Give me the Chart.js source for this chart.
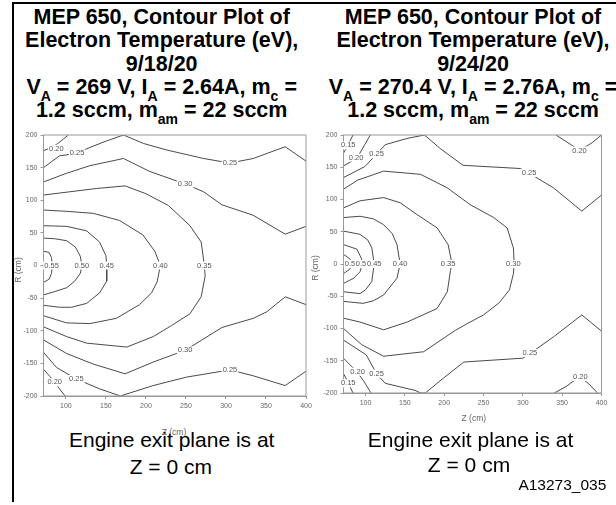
<!DOCTYPE html>
<html lang="en">
<head>
<meta charset="UTF-8">
<title>MEP 650 - Electron Temperature Contours</title>
<script src="https://cdn.jsdelivr.net/npm/chart.js"></script>
<style>
    body { margin: 0; width: 616px; height: 505px; background: #fff; overflow: hidden; position: relative;
           font-family: "Liberation Sans", Arial, sans-serif; }
    .frame-top { position: absolute; left: 12px; top: 2px; width: 604px; border-top: 2px solid #000; }
    .frame-left { position: absolute; left: 12px; top: 2px; height: 500px; border-left: 2px solid #000; }
    .title { position: absolute; width: 320px; text-align: center; font-weight: bold; font-size: 21.5px;
             line-height: 21.5px; white-space: nowrap; color: #000; }
    .title sub { font-size: 14px; position: relative; top: 7px; vertical-align: baseline; line-height: 0; }
    .note { position: absolute; width: 260px; text-align: center; font-size: 21px; line-height: 21px; white-space: nowrap; }
    .axis-title { position: absolute; font-size: 8.5px; color: #666; white-space: nowrap; }
    .id { position: absolute; right: 9.7px; top: 476.9px; font-size: 15.5px; line-height: 15.5px; }
    canvas { position: absolute; }
</style>
</head>
<body>
<div class="frame-top"></div>
<div class="frame-left"></div>

<!-- left title -->
<div class="title" style="left:1.7px; top:6.8px">MEP 650, Contour Plot of</div>
<div class="title" style="left:1.7px; top:30.2px">Electron Temperature (eV),</div>
<div class="title" style="left:1.7px; top:53.6px">9/18/20</div>
<div class="title" style="left:1.7px; top:77px">V<sub>A</sub> = 269 V, I<sub>A</sub> = 2.64A, m<sub>c</sub> =</div>
<div class="title" style="left:1.7px; top:100.4px">1.2 sccm, m<sub>am</sub> = 22 sccm</div>

<!-- right title -->
<div class="title" style="left:313px; top:6.8px">MEP 650, Contour Plot of</div>
<div class="title" style="left:313px; top:30.2px">Electron Temperature (eV),</div>
<div class="title" style="left:313px; top:53.6px">9/24/20</div>
<div class="title" style="left:313px; top:77px">V<sub>A</sub> = 270.4 V, I<sub>A</sub> = 2.76A, m<sub>c</sub> =</div>
<div class="title" style="left:313px; top:100.4px">1.2 sccm, m<sub>am</sub> = 22 sccm</div>

<canvas id="leftPlot" width="316" height="300" style="left:0; top:125px"></canvas>
<canvas id="rightPlot" width="312" height="300" style="left:300px; top:125px"></canvas>

<div class="axis-title" style="left:174px; top:432px; transform:translate(-50%,-50%)">Z (cm)</div>
<div class="axis-title" style="left:473.8px; top:418px; transform:translate(-50%,-50%)">Z (cm)</div>
<div class="axis-title" style="left:18.3px; top:270px; transform:translate(-50%,-50%) rotate(-90deg)">R (cm)</div>
<div class="axis-title" style="left:314.7px; top:268px; transform:translate(-50%,-50%) rotate(-90deg)">R (cm)</div>

<div class="note" style="left:41.7px; top:429.2px">Engine exit plane is at</div>
<div class="note" style="left:40.8px; top:455.7px">Z = 0 cm</div>
<div class="note" style="left:340.5px; top:428.9px">Engine exit plane is at</div>
<div class="note" style="left:339px; top:453.9px">Z = 0 cm</div>
<div class="id">A13273_035</div>

<script>
    // axis ranges and tick labels
    const zMin = 72, zMax = 400;
    const rMin = -200, rMax = 200;
    const zTicks = [100, 150, 200, 250, 300, 350, 400];
    const rTicks = [-200, -150, -100, -50, 0, 50, 100, 150, 200];

    // 9/18/20 contours, [Z, R] in cm
    const left055 = [[72,22],[79,20],[82,12],[83,0],[82,-12],[79,-21],[72,-26]];
    const left050 = [[72,42],[86,41],[101,38],[112,28],[118,14],[120,0],[118,-12],[111,-24],[101,-34],[86,-40],[72,-45]];
    const left045 = [[72,61],[101,60],[126,53],[142,36],[150,15],[151,0],[151,-24],[142,-42],[126,-58],[107,-64],[92,-64],[72,-61]];
    const left040 = [[72,85],[101,83],[134,80],[167,69],[196,47],[211,22],[218,0],[214,-25],[207,-42],[192,-60],[163,-81],[130,-89],[101,-88],[72,-77]];
    const left035 = [[72,108],[105,113],[138,118],[174,122],[200,110],[228,92],[255,61],[269,36],[273,0],[274,-16],[269,-48],[255,-74],[232,-92],[209,-109],[176,-125],[126,-119],[101,-109],[72,-94]];
    const left030a = [[72,128],[100,141],[130,153],[172,164],[205,144],[249,125],[272,113],[295,93],[334,77],[374,48],[400,60]];
    const left030b = [[72,-114],[101,-135],[134,-151],[174,-166],[209,-148],[249,-130],[295,-95],[334,-81],[351,-71],[374,-48],[400,-60]];
    const left025a = [[72,150],[92,168],[114,172],[130,181],[151,191],[172,200],[197,187],[226,177],[272,164],[305,157],[334,164],[374,182],[400,160]];
    const left025b = [[72,-133],[88,-156],[113,-174],[142,-189],[168,-200],[209,-184],[251,-171],[305,-160],[334,-169],[374,-184],[400,-162]];
    const left020a = [[72,176],[82,181],[90,187],[97,194],[103,200]];
    const left020b = [[72,-159],[80,-170],[86,-179],[92,-189],[99,-200]];
    const leftLabels = [
        ['0.20', 88, 179], ['0.25', 114, 172], ['0.25', 305, 157], ['0.30', 249, 125],
        ['0.55', 82, 0], ['0.50', 120, 0], ['0.45', 151, 0], ['0.40', 218, 0], ['0.35', 273, 0],
        ['0.30', 249, -130], ['0.25', 113, -174], ['0.25', 305, -160], ['0.20', 86, -179]
    ];

    // 9/24/20 contours, [Z, R] in cm
    const right055 = [[72,15],[80,8],[83,0],[80,-8],[72,-15]];
    const right050 = [[72,30],[89,23],[95,8],[96,0],[93,-12],[85,-22],[72,-30]];
    const right045 = [[72,51],[93,46],[103,37],[108,25],[111,0],[108,-27],[100,-40],[93,-46],[72,-43]];
    const right040 = [[72,72],[93,74],[110,70],[123,61],[134,47],[140,30],[144,0],[140,-22],[123,-48],[110,-57],[97,-61],[72,-58]];
    const right035 = [[72,87],[93,98],[123,103],[144,95],[165,77],[191,56],[205,30],[210,0],[208,-10],[204,-43],[191,-69],[153,-90],[123,-102],[93,-90],[72,-84]];
    const right030 = [[72,116],[90,130],[123,144],[170,139],[204,118],[233,92],[263,72],[280,56],[288,25],[289,0],[288,-15],[283,-40],[270,-60],[250,-79],[230,-92],[214,-103],[174,-136],[123,-143],[95,-125],[72,-100]];
    const right025a = [[72,134],[99,151],[114,170],[125,185],[154,195],[175,200],[195,179],[224,153],[297,148],[309,140],[339,118],[375,82],[400,107]];
    const right025b = [[72,-118],[101,-141],[114,-170],[125,-185],[163,-196],[170,-200],[176,-200],[200,-176],[225,-152],[300,-146],[309,-139],[340,-112],[375,-79],[400,-104]];
    const right020a = [[72,152],[86,162],[91,168],[99,185],[106,200]];
    const right020b = [[342,200],[360,186],[372,176],[388,188],[400,200]];
    const right020c = [[72,-146],[89,-167],[98,-182],[107,-200]];
    const right020d = [[340,-200],[355,-190],[366,-180],[373,-175],[384,-186],[395,-200]];
    const right015a = [[72,172],[78,184],[80,190],[84,200]];
    const right015b = [[72,-170],[78,-184],[84,-200]];
    const rightLabels = [
        ['0.15', 78, 184], ['0.20', 88, 165], ['0.25', 114, 170], ['0.20', 372, 176], ['0.25', 308, 141],
        ['0.55', 83, 0], ['0.50', 97, 0], ['0.45', 111, 0], ['0.40', 144, 0], ['0.35', 205, 0], ['0.30', 288, 0],
        ['0.25', 309, -138], ['0.20', 373, -175], ['0.20', 90, -167], ['0.25', 114, -170], ['0.15', 78, -185]
    ];

    // frame around plot area + inline contour labels
    const contourExtras = {
        id: 'contourExtras',
        afterDatasetsDraw(chart, args, opts) {
            const c = chart.ctx, a = chart.chartArea;
            const xs = chart.scales.x, ys = chart.scales.y;
            c.save();
            c.strokeStyle = '#999';
            c.lineWidth = 1;
            c.strokeRect(a.left, a.top, a.right - a.left, a.bottom - a.top);
            c.font = '7.5px "Liberation Sans", Arial, sans-serif';
            c.textAlign = 'center';
            c.textBaseline = 'middle';
            opts.items.forEach(([txt, z, r]) => {
                const px = xs.getPixelForValue(z), py = ys.getPixelForValue(r);
                const w = c.measureText(txt).width;
                c.fillStyle = '#fff';
                c.fillRect(px - w / 2 - 1, py - 4, w + 2, 8);
                c.fillStyle = '#555';
                c.fillText(txt, px, py);
            });
            c.restore();
        }
    };

    function buildChart(id, contours, labels, padRight, xHeight) {
        const ctx = document.getElementById(id).getContext('2d');
        return new Chart(ctx, {
            type: 'scatter',
            data: {
                datasets: contours.map(line => ({
                    data: line.map(p => ({ x: p[0], y: p[1] })),
                    showLine: true,
                    borderColor: '#4a4a4a',
                    borderWidth: 1,
                    pointRadius: 0,
                    tension: 0,
                    fill: false
                }))
            },
            options: {
                responsive: false,
                animation: false,
                layout: { padding: { top: 10, right: padRight, left: 0, bottom: 0 } },
                plugins: {
                    legend: { display: false },
                    tooltip: { enabled: false },
                    contourExtras: { items: labels }
                },
                scales: {
                    x: {
                        type: 'linear', min: zMin, max: zMax,
                        afterBuildTicks: s => { s.ticks = zTicks.map(v => ({ value: v })); },
                        afterFit: s => { s.height = xHeight; s.paddingLeft = 0; s.paddingRight = 0; },
                        ticks: { font: { size: 7 }, color: '#666', padding: 3, maxRotation: 0, autoSkip: false },
                        grid: { drawOnChartArea: false, tickLength: 3, color: '#999' },
                        border: { color: '#999' }
                    },
                    y: {
                        type: 'linear', min: rMin, max: rMax,
                        afterBuildTicks: s => { s.ticks = rTicks.map(v => ({ value: v })); },
                        afterFit: s => { s.width = 43.5; s.paddingTop = 0; s.paddingBottom = 0; },
                        ticks: { font: { size: 7 }, color: '#666', padding: 3, autoSkip: false },
                        grid: { drawOnChartArea: false, tickLength: 3, color: '#999' },
                        border: { color: '#999' }
                    }
                }
            },
            plugins: [contourExtras]
        });
    }

    buildChart('leftPlot',
        [left055, left050, left045, left040, left035, left030a, left030b, left025a, left025b, left020a, left020b],
        leftLabels, 10, 29);
    buildChart('rightPlot',
        [right055, right050, right045, right040, right035, right030, right025a, right025b,
         right020a, right020b, right020c, right020d, right015a, right015b],
        rightLabels, 10.5, 32);
</script>
</body>
</html>
